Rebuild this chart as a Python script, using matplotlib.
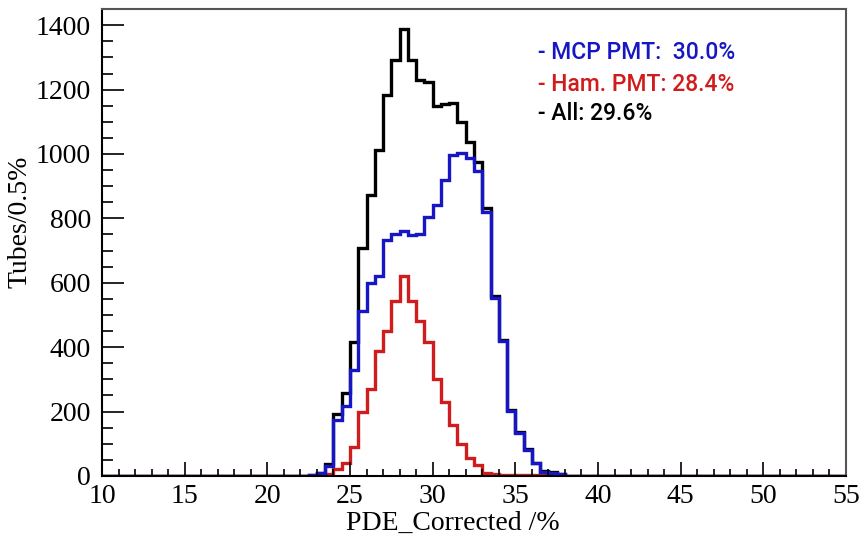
import numpy as np
import matplotlib
matplotlib.use('Agg')
import matplotlib.pyplot as plt
from matplotlib.ticker import MultipleLocator

# bins are 0.5 % wide, from 10 to 55; the values below start at 22.5
first_bin = 22.5
mcp = [2, 8, 31, 174, 218, 330, 511, 600, 622, 734, 750, 760, 748, 750, 805,
       843, 918, 996, 1002, 988, 948, 820, 553, 420, 203, 135, 81, 39, 13, 10, 5, 0]
ham = [0, 2, 6, 21, 41, 89, 200, 271, 387, 449, 544, 622, 544, 482, 415,
       302, 231, 159, 100, 55, 34, 10, 6, 3, 2, 2, 2, 2, 2, 1, 1, 0]
total = [2, 10, 37, 192, 257, 415, 708, 874, 1012, 1182, 1292, 1388, 1292, 1230, 1224,
         1149, 1154, 1158, 1099, 1037, 976, 831, 559, 423, 205, 137, 83, 41, 15, 12, 6, 0]

legend_lines = ['- MCP PMT:  30.0%', '- Ham. PMT: 28.4%', '- All: 29.6%']

edges = np.arange(10, 55.001, 0.5)


def full_hist(vals):
    h = np.zeros(len(edges) - 1)
    i0 = int(round((first_bin - 10) / 0.5))
    h[i0:i0 + len(vals)] = vals
    return h


blue = '#1616c4'
red = '#d01c1c'

fig = plt.figure(figsize=(8.66, 5.36), dpi=100)
ax = fig.add_axes([0.1178, 0.112, 0.8591, 0.871])

ax.stairs(full_hist(total), edges, color='black', lw=2.4)
ax.stairs(full_hist(ham), edges, color=red, lw=2.4)
ax.stairs(full_hist(mcp), edges, color=blue, lw=2.4)

ax.set_xlim(10, 55)
ax.set_ylim(0, 1450)

ax.xaxis.set_major_locator(MultipleLocator(5))
ax.xaxis.set_minor_locator(MultipleLocator(1))
ax.yaxis.set_major_locator(MultipleLocator(200))
ax.yaxis.set_minor_locator(MultipleLocator(50))

ax.tick_params(axis='both', which='both', direction='in', top=False, right=False)
ax.tick_params(axis='y', which='major', length=16, width=1.2, pad=8)
ax.tick_params(axis='y', which='minor', length=8, width=1.2)
ax.tick_params(axis='x', which='major', length=10, width=1.2, pad=6)
ax.tick_params(axis='x', which='minor', length=5, width=1.2)

serif = 'Liberation Serif'
for lab in ax.get_xticklabels() + ax.get_yticklabels():
    lab.set_fontfamily(serif)
    lab.set_fontsize(20)

ax.set_xlabel('PDE_Corrected /%', fontfamily=serif, fontsize=20)
ax.set_ylabel('Tubes/0.5%', fontfamily=serif, fontsize=20)
ax.xaxis.set_label_coords(0.472, -0.075)
ax.yaxis.set_label_coords(-0.093, 0.544)

for s in ['left', 'bottom']:
    ax.spines[s].set_linewidth(1.5)
for s in ['top', 'right']:
    ax.spines[s].set_linewidth(1.5)
    ax.spines[s].set_color('#555555')

for txt, col, y in zip(legend_lines, [blue, red, 'black'], [0.906, 0.839, 0.777]):
    ax.text(0.586, y, txt, color=col, transform=ax.transAxes, va='center', ha='left',
            fontfamily='Roboto', fontweight='medium', fontsize=16.5)

fig.savefig('out.png', dpi=100)
